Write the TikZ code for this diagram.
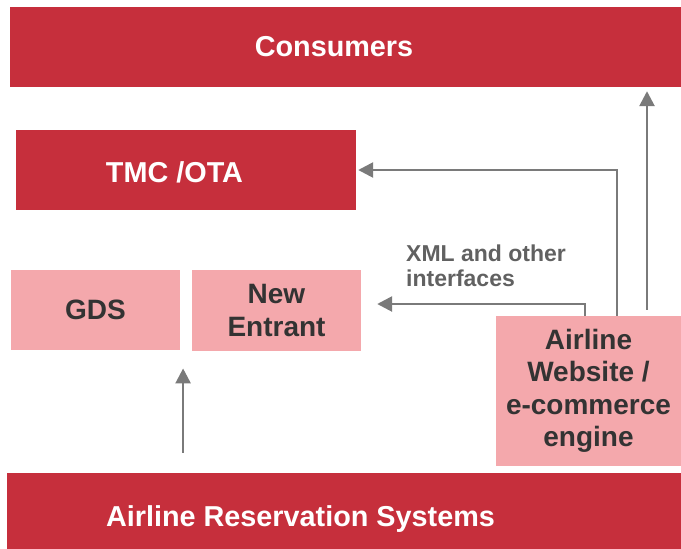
\documentclass[tikz,border=0pt]{standalone}
\usepackage{fontspec}
\setmainfont{Liberation Sans}
\usetikzlibrary{arrows.meta,calc}
\definecolor{resred}{HTML}{C62F3C}
\definecolor{respink}{HTML}{F4A8AC}
\definecolor{restext}{HTML}{333333}
\definecolor{resarrow}{HTML}{7A7A7A}
\definecolor{resnote}{HTML}{616161}

\begin{document}
\begin{tikzpicture}[x=1pt, y=-1pt,
  redbox/.style={fill=resred, inner sep=0pt},
  pinkbox/.style={fill=respink, inner sep=0pt, text=restext, align=center, font=\fontsize{28}{32.5}\selectfont\bfseries},
  redtext/.style={text=white, inner sep=0pt, font=\fontsize{28.8}{33}\selectfont\bfseries},
  flow/.style={draw=resarrow, line width=2.6pt, -{Triangle[width=15pt,length=15pt]}},
  note/.style={text=resnote, align=left, inner sep=0pt, font=\fontsize{23}{25}\selectfont\bfseries}]

\useasboundingbox (0,0) rectangle (681,549);

\node[redbox, minimum width=671pt, minimum height=80pt,
  label={[redtext, xshift=-11.5pt]center:Consumers}] (cons) at (345.5,47) {};
\node[redbox, minimum width=340pt, minimum height=80pt,
  label={[redtext, xshift=-11.5pt, yshift=-2.5pt]center:TMC /OTA}] (tmc) at (186,170) {};
\node[pinkbox, minimum width=169pt, minimum height=80pt] (gds) at (95.5,310) {GDS};
\node[pinkbox, minimum width=169pt, minimum height=81pt] (newe) at (276.5,310.5) {New\\Entrant};
\node[pinkbox, minimum width=185pt, minimum height=150pt] (web) at (588.5,391) {Airline\\Website /\\e-commerce\\engine};
\node[redbox, minimum width=674pt, minimum height=76pt,
  label={[redtext, xshift=-43.5pt, yshift=-8.5pt]center:Airline Reservation Systems}] (ars) at (344,511) {};
\node[note, anchor=north west] (xml) at (406,245) {XML and other\\interfaces};

\coordinate (gap) at ($(gds.south east)!0.25!(newe.south west)$);
\draw[flow, shorten <=20pt, shorten >=18pt] (ars.north -| gap) -- (gap);
\draw[flow, shorten <=6pt, shorten >=4pt] ([xshift=58.5pt]web.north) -- ([xshift=58.5pt]web.north |- cons.south);
\draw[flow, shorten >=2pt] ([xshift=28.5pt]web.north) |- (tmc.east);
\draw[flow, shorten >=16pt] ([xshift=-3.5pt]web.north) |- ([yshift=6.5pt]newe.east);

\end{tikzpicture}
\end{document}
